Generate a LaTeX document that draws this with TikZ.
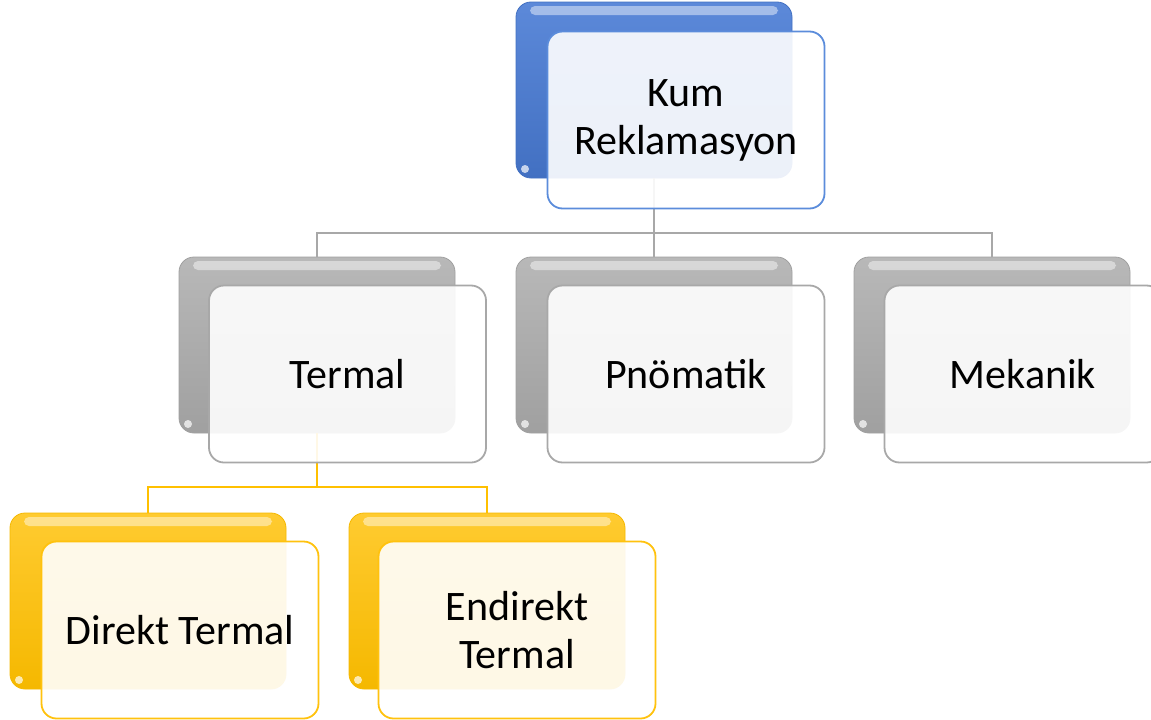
\documentclass[tikz,border=0pt]{standalone}
\usepackage{fontspec}
\setmainfont{Carlito}
\usetikzlibrary{calc}
\definecolor{bBlueT}{HTML}{5C89D9}
\definecolor{bBlueB}{HTML}{4270C2}
\definecolor{fBlue}{HTML}{5B8CDB}
\definecolor{bGrayT}{HTML}{B8B8B8}
\definecolor{bGrayB}{HTML}{A0A0A0}
\definecolor{fGray}{HTML}{A8A8A8}
\definecolor{bYelT}{HTML}{FFCB30}
\definecolor{bYelB}{HTML}{F5B800}
\definecolor{fYel}{HTML}{FFC20E}
\definecolor{lGray}{HTML}{A8A8A8}
\definecolor{lYel}{HTML}{FFC000}
\tikzset{
  backbox/.style={rectangle, rounded corners=15pt, minimum width=276pt, minimum height=176pt, inner sep=0pt,
    path picture={\fill[white,opacity=0.45,rounded corners=5pt]
      ([xshift=14pt,yshift=-4pt]path picture bounding box.north west) rectangle
      ([xshift=-14pt,yshift=-13pt]path picture bounding box.north east);
      \fill[white,opacity=0.7] ([xshift=9pt,yshift=9pt]path picture bounding box.south west) circle (4pt);}},
  backblue/.style={backbox, top color=bBlueT, bottom color=bBlueB, draw=bBlueB, line width=0.8pt},
  backgray/.style={backbox, top color=bGrayT, bottom color=bGrayB, draw=bGrayB, line width=0.8pt},
  backyel/.style={backbox, top color=bYelT, bottom color=bYelB, draw=bYelB, line width=0.8pt},
  frontbox/.style={rectangle, rounded corners=15pt, minimum width=277pt, minimum height=177pt, inner sep=0pt,
    fill=white, fill opacity=0.9, text opacity=1, line width=1.8pt, align=center,
    font=\fontsize{42}{48}\selectfont},
  frontblue/.style={frontbox, draw=fBlue},
  frontgray/.style={frontbox, draw=fGray},
  frontyel/.style={frontbox, draw=fYel},
  gconn/.style={draw=lGray, line width=2pt},
  yconn/.style={draw=lYel, line width=2pt},
}
\begin{document}
\begin{tikzpicture}[x=1pt,y=-1pt]
\useasboundingbox (0,0) rectangle (1151,720);
\begin{scope}
\clip (0,0) rectangle (1151,720);
% back boxes
\node[backblue] (kb) at (654,90) {};
\node[backgray] (tb) at (317,345) {};
\node[backgray] (pb) at (654,345) {};
\node[backgray] (mb) at (992,345) {};
\node[backyel] (db) at (148,601) {};
\node[backyel] (eb) at (487,601) {};
% connectors
\draw[gconn] (kb.south) -- ++(0,55) coordinate (kj) -| (tb.north);
\draw[gconn] (kj) -| (mb.north);
\draw[gconn] (kj) -- (pb.north);
\draw[yconn] (tb.south) -- ++(0,54) coordinate (tj) -| (db.north);
\draw[yconn] (tj) -| (eb.north);
% front boxes
\node[frontblue] (k) at (686,120) {Kum\\Reklamasyon};
\node[frontgray] (t) at (347.5,374) {Termal};
\node[frontgray] (p) at (686,374) {Pnömatik};
\node[frontgray] (m) at (1023,374) {Mekanik};
\node[frontyel] (d) at (180,630) {Direkt Termal};
\node[frontyel] (e) at (517,630) {Endirekt\\Termal};
\end{scope}
\end{tikzpicture}
\end{document}
